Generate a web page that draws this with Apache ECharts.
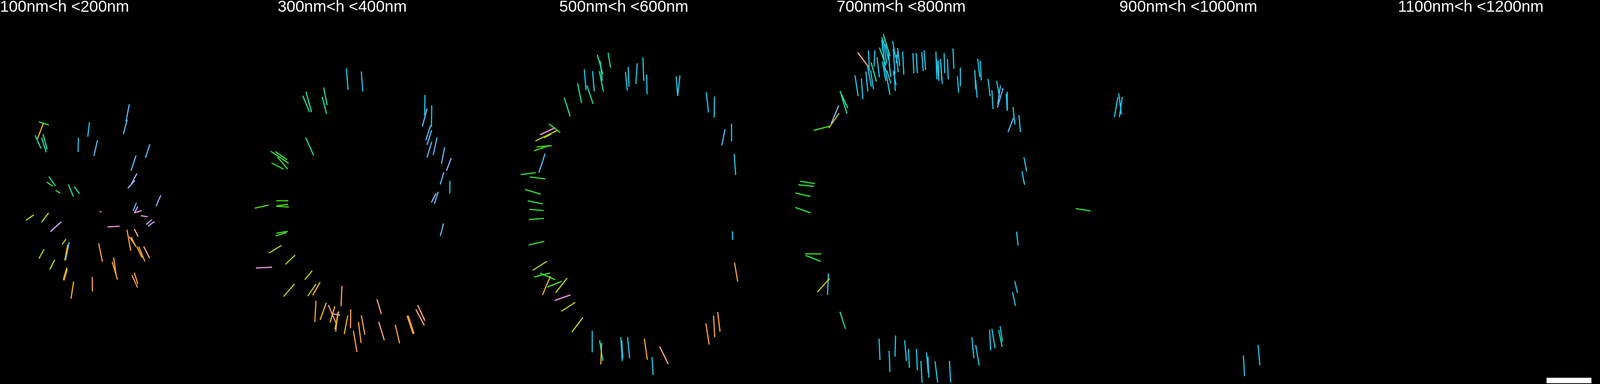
<!DOCTYPE html>
<html>
<head>
<meta charset="utf-8">
<script src="https://cdn.jsdelivr.net/npm/echarts@6/dist/echarts.min.js"></script>
<style>
html, body { margin: 0; padding: 0; background: #000; overflow: hidden; }
#chart { width: 100vw; height: 100vh; }
</style>
</head>
<body>
<div id="chart"></div>
<script>
var panelTitles = ['100nm<h <200nm', '300nm<h <400nm', '500nm<h <600nm',
                   '700nm<h <800nm', '900nm<h <1000nm', '1100nm<h <1200nm'];

// colour classes used by the segments (orientation colour wheel)
var palette = ['#1fc4e2', '#5ab8f2', '#9cb0fa', '#c6a6f2', '#f290e2', '#f8a07e',
               '#f8a03c', '#eeb41e', '#bccc1e', '#46dc1a', '#2ae03c', '#1ed8a2'];

// segments: [x1, y1, x2, y2, colour class], panel-local coordinates
var panel1 = [
    [439,267,428,311,1], [432,306,419,343,1], [132,312,166,320,10], [148,314,127,356,7],
    [119,346,139,380,11], [146,343,160,383,11], [141,352,157,390,11], [304,313,298,350,0],
    [266,353,265,389,0], [331,359,319,399,1], [509,369,494,404,1], [462,398,445,437,1],
    [465,444,446,471,2], [458,462,434,482,2], [166,452,188,476,11], [159,466,179,477,10],
    [189,487,205,495,9], [232,472,249,503,11], [252,478,270,496,11], [546,500,530,528,2],
    [463,519,452,540,1], [468,529,456,545,3], [456,545,481,539,4], [339,542,345,542,4],
    [478,552,501,555,4], [515,562,497,575,3], [524,567,503,579,3], [88,564,115,550,8],
    [141,569,165,545,8], [171,593,208,568,3], [365,581,406,579,4], [456,586,469,606,5],
    [431,588,444,642,6], [439,606,463,632,5], [446,607,460,630,6], [465,632,483,660,6],
    [471,631,492,669,6], [488,631,508,661,5], [224,612,211,626,8], [235,620,223,665,1],
    [230,626,220,667,7], [335,623,348,670,6], [150,638,132,662,8], [186,665,169,690,8],
    [227,685,215,716,7], [228,689,217,718,7], [386,659,394,702,6], [381,670,399,716,6],
    [250,721,241,765,7], [313,709,314,746,6], [456,698,468,727,6], [448,704,467,736,6]
];
var panel2 = [
    [316,175,322,230,0], [367,183,372,234,0], [168,245,191,287,11], [179,235,198,287,11],
    [239,224,251,269,11], [234,248,249,292,11], [178,352,205,398,11], [59,387,120,418,10],
    [75,388,115,409,10], [82,402,117,433,10], [62,417,103,433,10], [5,533,52,525,9],
    [78,514,119,514,9], [78,528,121,530,9], [80,527,118,523,9], [583,243,582,296,0],
    [590,278,574,324,1], [606,270,605,324,0], [602,321,586,359,1], [606,333,590,371,1],
    [624,352,611,397,1], [606,363,590,403,1], [650,377,639,419,1], [672,405,656,437,2],
    [647,441,635,472,1], [668,463,667,495,0], [621,495,605,518,2], [628,491,615,522,1],
    [79,597,117,592,9], [76,604,113,595,9], [53,648,96,628,8], [109,677,142,653,8],
    [9,686,64,684,4], [175,716,200,693,8], [103,759,140,727,8], [185,758,213,727,8],
    [202,756,227,722,7], [213,770,209,824,6], [248,775,227,819,7], [301,732,298,784,6],
    [255,781,281,827,5], [277,784,261,825,7], [268,803,295,807,4], [290,797,277,843,7],
    [287,800,280,849,7], [321,808,309,855,7], [331,792,330,840,6], [367,807,379,857,6],
    [357,824,366,878,6], [340,847,352,901,6], [420,766,435,804,5], [426,824,445,871,5],
    [482,831,497,879,6], [522,808,543,855,6], [526,808,546,854,6], [558,781,583,821,5],
    [552,792,581,833,5], [646,572,635,604,1]
];
var panel3 = [
    [268,140,287,190,11], [278,156,285,207,11], [305,135,313,173,11], [224,177,230,231,0],
    [252,182,258,234,0], [275,182,289,234,11], [201,213,215,264,11], [233,219,254,266,11],
    [156,250,176,298,11], [364,184,370,232,0], [373,171,376,222,0], [404,162,399,215,0],
    [423,147,426,207,0], [436,191,437,241,0], [536,195,541,245,0], [549,193,541,246,0],
    [638,236,646,288,0], [666,247,665,301,0], [702,331,691,372,1], [724,317,724,362,0],
    [733,394,738,448,0], [104,317,142,339,10], [74,345,122,328,4], [58,361,132,334,8],
    [87,353,112,343,8], [62,376,114,373,9], [54,386,106,372,9], [91,393,70,442,1],
    [8,447,59,442,10], [39,453,91,458,10], [23,485,76,497,10], [32,514,83,522,10],
    [37,536,86,539,10], [36,562,87,559,10], [35,627,88,618,10], [49,692,97,669,8],
    [54,709,108,699,9], [74,699,125,716,10], [109,707,82,755,7], [98,735,148,720,9],
    [127,749,166,712,8], [124,769,177,755,4], [146,797,193,774,8], [182,850,219,813,8],
    [251,847,251,902,0], [276,871,287,924,11], [283,878,280,933,6], [348,863,353,924,0],
    [351,871,355,917,0], [371,863,378,917,0], [428,867,438,921,6], [454,914,458,960,0],
    [480,887,509,932,5], [637,828,648,882,6], [663,808,667,863,6], [677,799,685,849,6],
    [734,672,745,721,6], [727,592,728,614,0]
];
var panel4 = [
    [262,134,299,171,5], [349,87,372,143,11], [345,95,355,180,0], [350,103,361,163,0],
    [344,103,353,157,0], [356,113,367,153,0], [336,122,358,167,11], [346,157,358,207,0],
    [353,163,372,243,0], [361,180,375,213,0], [367,133,372,180,0], [369,163,375,197,0],
    [381,105,391,148,0], [383,125,389,190,0], [386,180,390,233,0], [383,183,393,217,0],
    [400,130,393,162,1], [398,123,405,169,0], [394,140,400,185,0], [415,132,419,191,0],
    [299,129,302,180,0], [321,129,318,170,0], [328,147,336,198,0], [308,160,326,209,11],
    [306,180,316,228,0], [295,167,309,222,0], [290,183,297,234,0], [253,193,264,246,0],
    [275,201,280,254,0], [202,233,229,277,11], [206,242,226,291,11], [198,270,172,317,2],
    [199,290,164,328,8], [113,334,167,323,9], [450,136,453,188,0], [461,136,465,187,0],
    [480,133,485,182,0], [488,129,493,179,0], [528,132,531,203,0], [530,152,538,207,0],
    [536,155,538,203,0], [543,151,550,215,0], [545,163,548,205,0], [556,136,558,187,0],
    [567,151,570,203,0], [586,124,589,176,0], [611,173,611,221,0], [601,195,605,237,0],
    [670,150,677,197,0], [679,156,682,206,0], [660,179,663,229,0], [663,205,668,250,0],
    [705,202,712,246,0], [734,207,744,248,0], [747,219,738,267,1], [756,226,737,275,1],
    [718,231,722,279,0], [770,235,771,284,0], [767,240,770,282,0], [790,274,796,319,0],
    [810,295,815,338,0], [791,302,773,338,1], [827,403,836,439,0], [820,438,829,473,0],
    [67,464,117,470,10], [61,473,114,477,10], [51,494,102,503,10], [51,531,102,545,10],
    [84,650,139,650,9], [86,654,137,669,10], [163,700,160,755,0], [167,713,125,748,8],
    [202,798,221,842,11], [335,867,338,921,0], [369,898,372,952,0], [391,859,389,913,0],
    [422,871,428,924,0], [435,893,438,942,0], [462,893,465,948,0], [477,924,481,980,0],
    [496,902,502,955,0], [501,913,504,967,0], [525,925,534,979,0], [574,924,578,979,0],
    [650,863,657,917,0], [663,883,675,936,0], [710,844,714,897,0], [718,842,729,891,0],
    [746,835,754,875,0], [741,845,753,888,11], [802,593,807,628,0], [796,720,805,750,0],
    [788,748,798,783,0]
];
var panel5 = [
    [199,239,208,293,0], [196,248,184,300,0], [211,248,201,300,0], [53,534,103,540,10],
    [622,910,626,963,0], [672,883,678,935,0]
];
var panel6 = [];
var scaleBar = [[713,974,870,974]];

var panels = [panel1, panel2, panel3, panel4, panel5, panel6];

// layout is designed for a 5433 x 983 canvas and scaled to the real viewport
var DESIGN_W = 5433, DESIGN_H = 983;
var gridLeft = [0, 860, 1760, 2650, 3600, 4560];
var titleLeft = [0, 943, 1899, 2841, 3801, 4747];

var dom = document.getElementById('chart');
var kx = dom.clientWidth / DESIGN_W;
var ky = dom.clientHeight / DESIGN_H;
var k = Math.min(kx, ky);
var kLine = Math.sqrt(kx * ky);

function renderSegment(params, api) {
    var p1 = api.coord([api.value(0), api.value(1)]);
    var p2 = api.coord([api.value(2), api.value(3)]);
    return {
        type: 'line',
        shape: { x1: p1[0], y1: p1[1], x2: p2[0], y2: p2[1] },
        style: { stroke: palette[api.value(4)], lineWidth: 3.5 * kLine }
    };
}

function renderBar(params, api) {
    var p1 = api.coord([api.value(0), api.value(1)]);
    var p2 = api.coord([api.value(2), api.value(3)]);
    return {
        type: 'line',
        shape: { x1: p1[0], y1: p1[1], x2: p2[0], y2: p2[1] },
        style: { stroke: '#fff', lineWidth: 14 * ky }
    };
}

var grids = [], xAxes = [], yAxes = [], titles = [], series = [];
for (var i = 0; i < panels.length; i++) {
    grids.push({ left: gridLeft[i] * kx, top: 0, width: 900 * kx, height: DESIGN_H * ky });
    xAxes.push({ type: 'value', gridIndex: i, min: 0, max: 900, show: false });
    yAxes.push({ type: 'value', gridIndex: i, min: 0, max: DESIGN_H, inverse: true, show: false });
    titles.push({
        text: panelTitles[i], left: titleLeft[i] * kx, top: -2 * ky, padding: 0,
        textStyle: { color: '#fff', fontSize: 54 * k, fontWeight: 'normal', fontFamily: 'Liberation Sans' }
    });
    series.push({
        type: 'custom', xAxisIndex: i, yAxisIndex: i,
        renderItem: renderSegment, encode: { x: [0, 2], y: [1, 3] },
        data: panels[i], clip: false
    });
}
series.push({
    type: 'custom', xAxisIndex: 5, yAxisIndex: 5,
    renderItem: renderBar, encode: { x: [0, 2], y: [1, 3] },
    data: scaleBar, clip: false
});

var myChart = echarts.init(dom);
myChart.setOption({
    backgroundColor: '#000',
    animation: false,
    title: titles,
    grid: grids,
    xAxis: xAxes,
    yAxis: yAxes,
    series: series
});
</script>
</body>
</html>
